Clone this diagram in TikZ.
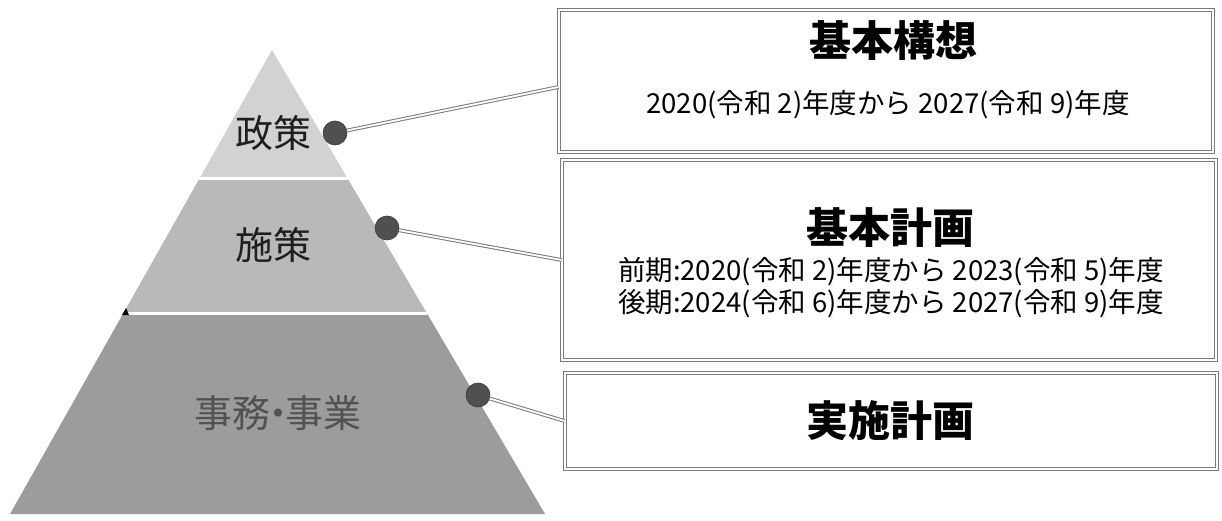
\documentclass[tikz,border=0pt]{standalone}
\usepackage{fontspec}
\setmainfont{Noto Sans CJK JP}
\usetikzlibrary{calc}
\definecolor{tierA}{HTML}{D2D2D2}
\definecolor{tierB}{HTML}{B9B9B9}
\definecolor{tierC}{HTML}{9C9C9C}
\definecolor{dotc}{HTML}{505050}
\definecolor{framec}{HTML}{7A7A7A}
\tikzset{
  tierlabel/.style={font=\fontsize{38}{40}\selectfont, inner sep=0pt},
  bubble/.style={circle, fill=dotc, draw=dotc!70!black, line width=0.6pt, minimum size=24pt, inner sep=0pt},
  linkline/.style={draw=framec, line width=1pt, double=white, double distance=1.8pt},
  planbox/.style={draw=framec, line width=0.9pt, double=white, double distance=2.4pt, inner sep=0pt},
  titletext/.style={font=\bfseries\fontsize{42}{44}\selectfont, inner sep=0pt},
  subtext/.style={font=\fontsize{27.5}{29}\selectfont, inner sep=0pt},
  sep/.style={draw=white, line width=3pt}
}
\begin{document}
\begin{tikzpicture}[x=1pt,y=-1pt]
\useasboundingbox[fill=white] (0,0) rectangle (1222,521);
% pyramid corners
\coordinate (A) at (272,50);
\coordinate (BL) at (10,514);
\coordinate (BR) at (545,514);
\coordinate (L1) at ($(A)!0.278!(BL)$);
\coordinate (R1) at ($(A)!0.278!(BR)$);
\coordinate (L2) at ($(A)!0.567!(BL)$);
\coordinate (R2) at ($(A)!0.567!(BR)$);
\fill[tierA] (A) -- (R1) -- (L1) -- cycle;
\fill[tierB] (L1) -- (R1) -- (R2) -- (L2) -- cycle;
\fill[tierC] (L2) -- (R2) -- (BR) -- (BL) -- cycle;
\draw[sep] (L1) -- (R1);
\draw[sep] (L2) -- (R2);
\fill[black] (122,315) -- (126,308) -- (129,315) -- cycle;
% labels
\node[tierlabel, text=black!88] (seisaku) at (273,133) {政策};
\node[tierlabel, text=black!88] (shisaku) at (273,245) {施策};
\node[tierlabel, text=black!68] (jimu) at (278,413) {事務\kern-0.3em・\kern-0.3em事業};
% boxes
\node[planbox, minimum width=654pt, minimum height=142pt] (box1) at (886,81) {};
\node[planbox, minimum width=654pt, minimum height=200pt] (box2) at (889,260) {};
\node[planbox, minimum width=652pt, minimum height=96pt] (box3) at (891,421) {};
\node[titletext] (t1) at (893,41) {基本構想};
\node[subtext] (s1) at (888,105) {2020(令和 2)年度から 2027(令和 9)年度};
\node[titletext] (t2) at (890,228) {基本計画};
\node[subtext] (s2) at (891,272) {前期:2020(令和 2)年度から 2023(令和 5)年度};
\node[subtext] (s3) at (891,304) {後期:2024(令和 6)年度から 2027(令和 9)年度};
\node[titletext] (t3) at (890,421) {実施計画};
% dots and links
\node[bubble] (d1) at (335,133) {};
\node[bubble] (d2) at (387,228) {};
\node[bubble] (d3) at (478,395) {};
\coordinate (b1e) at ($(box1.west)+(0,6)$);
\draw[linkline] (d1) -- (b1e);
\draw[linkline] (d2) -- (box2.west);
\draw[linkline] (d3) -- (box3.west);
\end{tikzpicture}
\end{document}
